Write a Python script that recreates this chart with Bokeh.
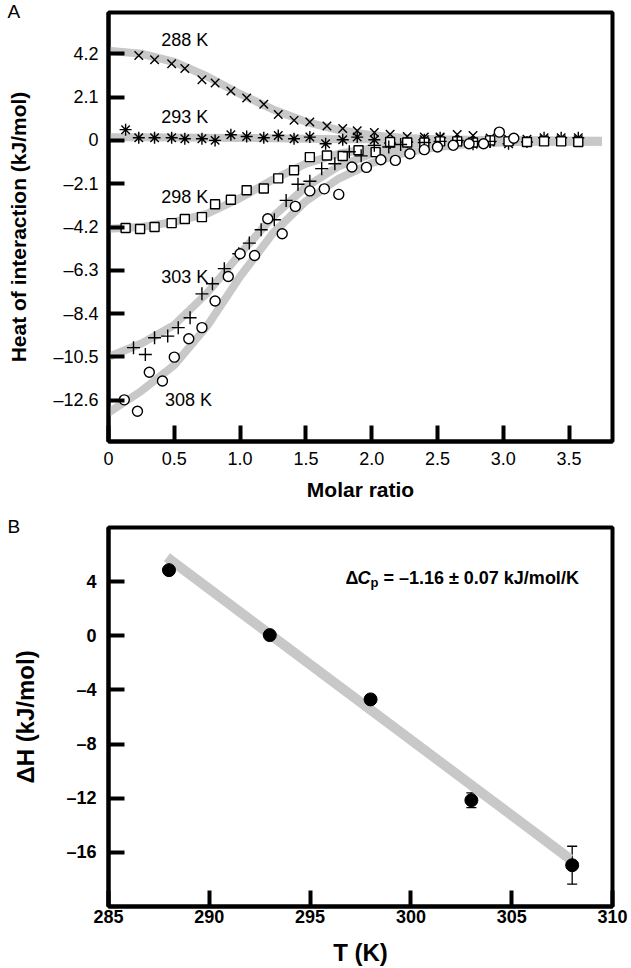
import math
from bokeh.plotting import figure
from bokeh.layouts import column
from bokeh.models import (FixedTicker, CustomJSTickFormatter, Range1d, Label,
                          Whisker, TeeHead, ColumnDataSource)
from bokeh.core.properties import value
from bokeh.embed import file_html
from bokeh.resources import INLINE

FONT = "Liberation Sans"

# ---------------- Panel A data ----------------
x288 = [0.23, 0.35, 0.48, 0.58, 0.71, 0.81, 0.93, 1.05, 1.18, 1.29, 1.41, 1.53, 1.66, 1.78,
        1.89, 2.02, 2.14, 2.27, 2.40, 2.52, 2.65, 2.77, 2.90, 3.04, 3.18, 3.31, 3.44, 3.57]
y288 = [4.12, 3.91, 3.72, 3.48, 2.94, 2.78, 2.39, 2.05, 1.75, 1.25, 0.97, 0.89, 0.70, 0.58,
        0.47, 0.38, 0.30, 0.19, 0.16, 0.16, 0.29, 0.24, 0.11, 0.05, 0.05, 0.03, 0.03, 0.03]

x293 = [0.13, 0.23, 0.35, 0.48, 0.58, 0.71, 0.81, 0.93, 1.05, 1.18, 1.29, 1.41, 1.53, 1.65,
        1.78, 1.89, 2.02, 2.14, 2.27, 2.40, 2.52, 2.65, 2.77, 2.90, 3.04, 3.18, 3.31, 3.44, 3.57]
y293 = [0.52, 0.13, 0.13, 0.13, 0.08, 0.08, 0.00, 0.27, 0.19, 0.13, 0.24, 0.08, 0.16, -0.16,
        0.03, 0.16, 0.03, -0.13, -0.08, 0.03, 0.13, -0.08, -0.19, -0.08, -0.16, -0.08, 0.13, 0.13, 0.13]

x298 = [0.13, 0.24, 0.35, 0.48, 0.58, 0.71, 0.81, 0.93, 1.05, 1.18, 1.29, 1.41, 1.53, 1.66,
        1.78, 1.90, 2.03, 2.14, 2.27, 2.40, 2.52, 2.65, 2.77, 2.90, 3.04, 3.18, 3.31, 3.44, 3.57]
y298 = [-4.25, -4.30, -4.20, -4.01, -3.81, -3.72, -3.10, -2.88, -2.42, -2.33, -1.84, -1.45, -0.81, -0.73,
        -0.76, -0.48, -0.57, -0.08, -0.10, -0.10, -0.05, -0.05, -0.10, 0.00, -0.05, -0.08, -0.05, -0.05, -0.08]

x303 = [0.19, 0.28, 0.35, 0.45, 0.53, 0.62, 0.71, 0.79, 0.88, 0.99, 1.07, 1.16, 1.26, 1.35,
        1.44, 1.53, 1.62, 1.72, 1.83, 1.92, 2.02, 2.13, 2.22, 2.40, 2.52, 2.65, 2.77, 2.90]
y303 = [-10.05, -10.38, -9.57, -9.49, -9.08, -8.60, -7.44, -6.95, -6.22, -5.50, -4.98, -4.33, -3.85, -2.91,
        -2.13, -1.98, -1.37, -1.13, -0.55, -0.75, -0.24, -0.32, -0.20, -0.10, -0.05, 0.00, -0.05, -0.05]

x308 = [0.12, 0.22, 0.31, 0.41, 0.50, 0.61, 0.71, 0.81, 0.91, 1.00, 1.11, 1.21, 1.32, 1.42, 1.53,
        1.64, 1.75, 1.85, 1.96, 2.07, 2.18, 2.29, 2.40, 2.50, 2.62, 2.74, 2.85, 2.97, 3.08]
y308 = [-12.58, -13.13, -11.24, -11.67, -10.51, -9.62, -9.08, -7.79, -6.60, -5.50, -5.58, -3.80, -4.53, -3.20, -2.45,
        -2.35, -2.62, -1.29, -1.31, -0.94, -0.97, -0.65, -0.45, -0.32, -0.24, -0.16, -0.16, 0.40, 0.10]

# fitted curves
fit_x = [0.0, 0.25, 0.5, 0.75, 1.0, 1.25, 1.5, 1.75, 2.0, 2.25, 2.5, 2.75, 3.0, 3.25, 3.5, 3.75]
fit288 = [4.35, 4.20, 3.80, 3.10, 2.25, 1.50, 0.90, 0.50, 0.25, 0.12, 0.06, 0.03, 0.02, 0.01, 0.0, -0.02]
fit293 = [0.15, 0.15, 0.14, 0.13, 0.12, 0.10, 0.08, 0.06, 0.05, 0.03, 0.02, 0.01, 0.0, -0.01, -0.03, -0.04]
fit298 = [-4.28, -4.20, -3.95, -3.55, -2.80, -1.90, -1.13, -0.65, -0.38, -0.22, -0.13, -0.08, -0.06, -0.05, -0.05, -0.05]
fit303 = [-10.50, -9.85, -8.95, -7.40, -5.50, -3.70, -2.25, -1.25, -0.65, -0.35, -0.18, -0.10, -0.06, -0.05, -0.05, -0.05]
fit308 = [-13.20, -12.15, -10.90, -9.00, -6.60, -4.50, -2.95, -1.85, -1.10, -0.60, -0.32, -0.17, -0.10, -0.06, -0.05, -0.05]

temp_labels = ["288 K", "293 K", "298 K", "303 K", "308 K"]
temp_label_x = [0.40, 0.40, 0.40, 0.40, 0.43]
temp_label_y = [4.85, 1.12, -2.76, -6.64, -12.60]

xticks_A = [0, 0.5, 1.0, 1.5, 2.0, 2.5, 3.0, 3.5]
yticks_A = [4.2, 2.1, 0, -2.1, -4.2, -6.3, -8.4, -10.5, -12.6]

# ---------------- Panel B data ----------------
T = [288, 293, 298, 303, 308]
dH = [4.85, 0.05, -4.70, -12.15, -16.95]
dH_err = [0.20, 0.20, 0.30, 0.55, 1.40]
fit_T = [287.9, 307.9]
fit_dH = [5.8, -16.5]

xticks_B = [285, 290, 295, 300, 305, 310]
yticks_B = [4, 0, -4, -8, -12, -16]

GREY = "#c8c8c8"


def style_axes(p, tick_size, bold):
    for ax in (p.xaxis[0], p.yaxis[0]):
        ax.axis_line_color = "black"
        ax.axis_line_width = 4
        ax.major_tick_in = 16
        ax.major_tick_out = 0
        ax.major_tick_line_width = 4
        ax.major_tick_line_color = "black"
        ax.minor_tick_line_color = None
        ax.major_label_text_font = FONT
        ax.major_label_text_font_size = tick_size
        ax.major_label_text_color = "black"
        ax.major_label_text_font_style = "bold" if bold else "normal"
        ax.axis_label_text_font = FONT
        ax.axis_label_text_font_style = "bold"
        ax.axis_label_text_color = "black"


def panel_letter(p, letter):
    p.title.text = letter
    p.title.align = "left"
    p.title.vertical_align = "top"
    p.title.offset = -101
    p.title.standoff = -22
    p.title.text_font = FONT
    p.title.text_font_size = "19px"
    p.title.text_font_style = "normal"
    p.title.text_color = "black"


# ---------------- Panel A ----------------
p1 = figure(width=631, height=515, x_range=Range1d(0, 3.83), y_range=Range1d(-14.6, 6.2),
            output_backend="svg", toolbar_location=None, title="A",
            min_border_left=108, min_border_right=19, min_border_top=12, min_border_bottom=74)
panel_letter(p1, "A")
p1.grid.visible = False
p1.outline_line_color = "black"
p1.outline_line_width = 4
p1.background_fill_color = "white"
p1.border_fill_color = "white"
style_axes(p1, "18px", False)
p1.xaxis.ticker = FixedTicker(ticks=xticks_A)
p1.yaxis.ticker = FixedTicker(ticks=yticks_A)
fmtA = CustomJSTickFormatter(code="return tick == 0 ? '0' : tick.toFixed(1).replace('-', '\\u2013');")
p1.xaxis.formatter = fmtA
p1.yaxis.formatter = fmtA
p1.xaxis.axis_label = "Molar ratio"
p1.yaxis.axis_label = "Heat of interaction (kJ/mol)"
p1.xaxis.axis_label_text_font_size = "21px"
p1.yaxis.axis_label_text_font_size = "21px"
p1.xaxis.major_label_standoff = 10
p1.yaxis.major_label_standoff = 10
p1.xaxis.axis_label_standoff = 10
p1.yaxis.axis_label_standoff = 20

for fy in (fit288, fit293, fit298, fit303, fit308):
    p1.line(fit_x, fy, line_color=GREY, line_width=8, line_cap="butt")

mk = dict(line_color="black", line_width=1.4, fill_color=None)
p1.scatter(x288, y288, marker="x", size=12, **mk)
p1.scatter(x293, y293, marker="asterisk", size=12, **mk)
p1.scatter(x298, y298, marker="square", size=9, line_color="black", line_width=1.4, fill_color="white")
p1.scatter(x303, y303, marker="cross", size=13, **mk)
p1.scatter(x308, y308, marker="circle", size=10, line_color="black", line_width=1.4, fill_color="white")

lab_src = ColumnDataSource(dict(x=temp_label_x, y=temp_label_y, t=temp_labels))
p1.text(x="x", y="y", text="t", source=lab_src, text_font=value(FONT), text_font_size="18px",
        text_align="left", text_baseline="middle", text_color="black")

# ---------------- Panel B ----------------
p2 = figure(width=631, height=453, x_range=Range1d(285, 310), y_range=Range1d(-20, 8),
            output_backend="svg", toolbar_location=None, title="B",
            min_border_left=108, min_border_right=19, min_border_top=12, min_border_bottom=60)
panel_letter(p2, "B")
p2.grid.visible = False
p2.outline_line_color = "black"
p2.outline_line_width = 4
p2.background_fill_color = "white"
p2.border_fill_color = "white"
style_axes(p2, "18px", True)
p2.xaxis.ticker = FixedTicker(ticks=xticks_B)
p2.yaxis.ticker = FixedTicker(ticks=yticks_B)
fmtB = CustomJSTickFormatter(code="return String(Math.round(tick)).replace('-', '\\u2013');")
p2.xaxis.formatter = fmtB
p2.yaxis.formatter = fmtB
p2.xaxis.major_label_standoff = 3
p2.yaxis.major_label_standoff = 12
p2.xaxis.axis_label = "T (K)"
p2.yaxis.axis_label = "\u0394H (kJ/mol)"
p2.xaxis.axis_label_text_font_size = "24px"
p2.yaxis.axis_label_text_font_size = "24px"
p2.xaxis.axis_label_standoff = 13
p2.yaxis.axis_label_standoff = 24

p2.line(fit_T, fit_dH, line_color=GREY, line_width=10, line_cap="butt")
err_src = ColumnDataSource(dict(T=T, upper=[a + b for a, b in zip(dH, dH_err)],
                                lower=[a - b for a, b in zip(dH, dH_err)]))
p2.add_layout(Whisker(source=err_src, base="T", upper="upper", lower="lower", dimension="height",
                      line_color="black", line_width=1.3,
                      upper_head=TeeHead(size=10, line_color="black", line_width=1.3),
                      lower_head=TeeHead(size=10, line_color="black", line_width=1.3)))
p2.scatter(T, dH, marker="circle", size=13, fill_color="black", line_color="black")

# pixel scale for placing mixed-style text pieces
px_y = (453 - 12 - 60) / (8 - (-20))

bold = dict(text_font=FONT, text_color="black", text_font_style="bold")
bital = dict(text_font=FONT, text_color="black", text_font_style="bold italic")
# Delta C_p annotation
cx, cy = 296.75, 4.26
w_d, w_c, w_p, w_sp = 12.0, 13.0, 8.0, 5.0
p2.add_layout(Label(x=cx, y=cy, text="\u0394", text_font_size="18px", text_baseline="alphabetic", **bold))
p2.add_layout(Label(x=cx, y=cy, x_offset=w_d, text="C", text_font_size="18px", text_baseline="alphabetic",
                    **bital))
p2.add_layout(Label(x=cx, y=cy - 4.5 / px_y, x_offset=w_d + w_c, text="p", text_font_size="13px",
                    text_baseline="alphabetic", **bold))
p2.add_layout(Label(x=cx, y=cy, x_offset=w_d + w_c + w_p + w_sp, text="= \u20131.16 \u00b1 0.07 kJ/mol/K",
                    text_font_size="18px", text_baseline="alphabetic", **bold))

layout = column(p1, p2, spacing=0)
open("out.html", "w").write(file_html(layout, INLINE))
